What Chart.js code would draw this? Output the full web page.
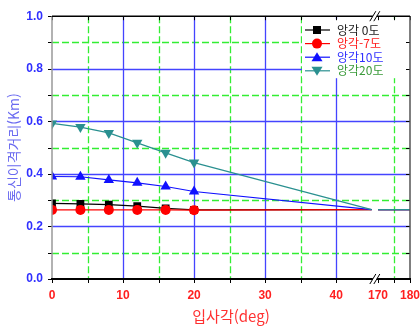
<!DOCTYPE html>
<html lang="ko">
<head>
<meta charset="utf-8">
<title>통신이격거리</title>
<script src="https://cdn.jsdelivr.net/npm/chart.js@4.4.1/dist/chart.umd.min.js"></script>
<style>
    html, body { margin: 0; padding: 0; background: #ffffff; }
    #caixa { width: 420px; height: 327px; }
</style>
</head>
<body>
<div id="caixa"><canvas id="graficoAlcance" width="420" height="327"></canvas></div>
<script>
/* Dados (입사각 em graus, 통신이격거리 em Km) */
const anguloIncidencia = [0, 4, 8, 12, 16, 20];
const angulo0 = [0.288, 0.286, 0.283, 0.277, 0.269, 0.263];
const anguloMenos7 = [0.263, 0.263, 0.263, 0.263, 0.263, 0.262];
const angulo10 = [0.390, 0.389, 0.377, 0.366, 0.352, 0.333];
const angulo20 = [0.592, 0.578, 0.556, 0.518, 0.480, 0.443];

/* Todas as curvas juntam-se em 45° e seguem depois do corte (170–180) */
const caudaX = [45, 170, 180];
const caudaY = [0.264, 0.264, 0.264];

const ticksX = [0, 10, 20, 30, 40, 170, 180];
const ticksY = [0, 0.2, 0.4, 0.6, 0.8, 1.0];
const legendas = ['앙각 0도', '앙각-7도', '앙각10도', '앙각20도'];

/* Eixo X com corte: 0–45 normal, 170–180 comprimido */
function eixoX(v) {
    return v <= 45 ? v : 45.9 + (v - 170) * 0.45;
}

function montarPontos(valores) {
    const pontos = anguloIncidencia.map(function (x, i) {
        return { x: eixoX(x), y: valores[i] };
    });
    pontos.push({ x: eixoX(caudaX[0]), y: caudaY[0] });
    pontos.push({ x: eixoX(caudaX[0]) + 0.4, y: null });
    pontos.push({ x: eixoX(caudaX[1]), y: caudaY[1] });
    pontos.push({ x: eixoX(caudaX[2]), y: caudaY[2] });
    return pontos;
}

function raios(r) {
    return anguloIncidencia.map(function () { return r; }).concat([0, 0, 0, 0]);
}

const series = [
    { nome: legendas[0], valores: angulo0, cor: '#000000', texto: '#222222', estilo: 'rect', raio: 5.5, rot: 0 },
    { nome: legendas[1], valores: anguloMenos7, cor: '#ff0000', texto: '#ff2020', estilo: 'circle', raio: 5, rot: 0 },
    { nome: legendas[2], valores: angulo10, cor: '#1010ff', texto: '#3030ff', estilo: 'triangle', raio: 6, rot: 0 },
    { nome: legendas[3], valores: angulo20, cor: '#2a9090', texto: '#3a9a3a', estilo: 'triangle', raio: 6, rot: 180 }
];

/* Grelha: azul contínua nos valores principais, verde tracejada nos intermédios */
const grelhaPlugin = {
    id: 'grelha',
    beforeDatasetsDraw(chart) {
        const ctx = chart.ctx;
        const a = chart.chartArea;
        const sx = chart.scales.x;
        const sy = chart.scales.y;
        ctx.save();
        ctx.lineWidth = 1.3;

        [5, 15, 25, 35, 175].forEach(function (v) {
            const px = Math.round(sx.getPixelForValue(eixoX(v))) + 0.5;
            ctx.strokeStyle = '#33ee33';
            ctx.setLineDash([7, 3]);
            ctx.beginPath(); ctx.moveTo(px, a.top); ctx.lineTo(px, a.bottom); ctx.stroke();
        });
        [0.1, 0.3, 0.5, 0.7, 0.9].forEach(function (v) {
            const py = Math.round(sy.getPixelForValue(v)) + 0.5;
            ctx.strokeStyle = '#33ee33';
            ctx.setLineDash([7, 3]);
            ctx.beginPath(); ctx.moveTo(a.left, py); ctx.lineTo(a.right, py); ctx.stroke();
        });
        ctx.setLineDash([]);
        [10, 20, 30, 40].forEach(function (v) {
            const px = Math.round(sx.getPixelForValue(eixoX(v))) + 0.5;
            ctx.strokeStyle = '#4444ff';
            ctx.beginPath(); ctx.moveTo(px, a.top); ctx.lineTo(px, a.bottom); ctx.stroke();
        });
        [0.2, 0.4, 0.6, 0.8].forEach(function (v) {
            const py = Math.round(sy.getPixelForValue(v)) + 0.5;
            ctx.strokeStyle = '#4444ff';
            ctx.beginPath(); ctx.moveTo(a.left, py); ctx.lineTo(a.right, py); ctx.stroke();
        });
        ctx.restore();
    }
};

function desenharMarcador(ctx, s, x, y) {
    ctx.fillStyle = s.cor;
    ctx.beginPath();
    if (s.estilo === 'rect') {
        ctx.rect(x - 4, y - 4, 8, 8);
    } else if (s.estilo === 'circle') {
        ctx.arc(x, y, 5, 0, Math.PI * 2);
    } else if (s.rot === 180) {
        ctx.moveTo(x - 5.5, y - 4); ctx.lineTo(x + 5.5, y - 4); ctx.lineTo(x, y + 5);
    } else {
        ctx.moveTo(x - 5.5, y + 4); ctx.lineTo(x + 5.5, y + 4); ctx.lineTo(x, y - 5);
    }
    ctx.closePath();
    ctx.fill();
}

/* Moldura, marcas dos eixos, corte e legenda */
const molduraPlugin = {
    id: 'moldura',
    afterDatasetsDraw(chart) {
        const ctx = chart.ctx;
        const a = chart.chartArea;
        const sx = chart.scales.x;
        const sy = chart.scales.y;
        ctx.save();

        // legenda
        ctx.fillStyle = '#ffffff';
        ctx.fillRect(302, a.top + 3, a.right - 302, 59);
        ctx.font = '12px "Noto Sans CJK KR"';
        ctx.textBaseline = 'middle';
        series.forEach(function (s, i) {
            const y = 30 + i * 13.6;
            ctx.strokeStyle = s.cor;
            ctx.lineWidth = 1.2;
            ctx.beginPath(); ctx.moveTo(305, y); ctx.lineTo(330, y); ctx.stroke();
            desenharMarcador(ctx, s, 317, y);
            ctx.fillStyle = s.texto;
            ctx.fillText(s.nome, 337, y);
        });

        // marcas
        ctx.strokeStyle = '#000000';
        ctx.lineWidth = 1;
        for (let v = 0; v <= 1.0001; v += 0.1) {
            const py = Math.round(sy.getPixelForValue(v)) + 0.5;
            ctx.beginPath(); ctx.moveTo(a.left - 4, py); ctx.lineTo(a.left, py); ctx.stroke();
            ctx.beginPath(); ctx.moveTo(a.right, py); ctx.lineTo(a.right - 4, py); ctx.stroke();
        }
        [0, 5, 10, 15, 20, 25, 30, 35, 40, 170, 175, 180].forEach(function (v) {
            const px = Math.round(sx.getPixelForValue(eixoX(v))) + 0.5;
            ctx.beginPath(); ctx.moveTo(px, a.bottom); ctx.lineTo(px, a.bottom + 4); ctx.stroke();
            ctx.beginPath(); ctx.moveTo(px, a.top); ctx.lineTo(px, a.top + 4); ctx.stroke();
        });

        // moldura
        ctx.lineWidth = 1.5;
        ctx.strokeStyle = '#999999';
        ctx.beginPath(); ctx.moveTo(a.left, a.top); ctx.lineTo(a.left, a.bottom); ctx.stroke();
        ctx.strokeStyle = '#555555';
        ctx.beginPath(); ctx.moveTo(a.right, a.top); ctx.lineTo(a.right, a.bottom); ctx.stroke();
        ctx.strokeStyle = '#000000';
        ctx.beginPath(); ctx.moveTo(a.left, a.top); ctx.lineTo(a.right, a.top); ctx.stroke();
        ctx.lineWidth = 2;
        ctx.beginPath(); ctx.moveTo(a.left - 1, a.bottom); ctx.lineTo(a.right + 1, a.bottom); ctx.stroke();

        // corte do eixo X
        const pc = (sx.getPixelForValue(eixoX(45)) + sx.getPixelForValue(eixoX(170))) / 2;
        [a.top, a.bottom].forEach(function (y) {
            ctx.fillStyle = '#ffffff';
            ctx.fillRect(pc - 2, y - 2, 4, 4);
            ctx.strokeStyle = '#000000';
            ctx.lineWidth = 1;
            [-2, 2].forEach(function (d) {
                ctx.beginPath();
                ctx.moveTo(pc + d - 3, y + 5);
                ctx.lineTo(pc + d + 3, y - 5);
                ctx.stroke();
            });
        });
        ctx.restore();
    }
};

new Chart(document.getElementById('graficoAlcance'), {
    type: 'line',
    data: {
        datasets: series.map(function (s, i) {
            return {
                label: s.nome,
                data: montarPontos(s.valores),
                borderColor: s.cor,
                backgroundColor: s.cor,
                borderWidth: 1.2,
                pointStyle: s.estilo,
                pointRotation: s.rot,
                pointRadius: raios(s.raio),
                pointBorderWidth: 0,
                spanGaps: false,
                order: 4 - i
            };
        })
    },
    options: {
        responsive: false,
        animation: false,
        layout: { padding: { top: 14, right: 10, left: 0, bottom: 0 } },
        plugins: {
            legend: { display: false },
            tooltip: { enabled: false }
        },
        scales: {
            x: {
                type: 'linear',
                min: 0,
                max: eixoX(180),
                afterBuildTicks: function (scale) {
                    scale.ticks = ticksX.map(function (v) { return { value: eixoX(v) }; });
                },
                afterFit: function (scale) {
                    scale.height = 48;
                    scale.paddingRight = 0;
                },
                grid: { display: false, drawTicks: false },
                border: { display: false },
                ticks: {
                    autoSkip: false,
                    maxRotation: 0,
                    padding: 9,
                    color: '#ff2020',
                    font: { family: 'Arial, "Liberation Sans", sans-serif', size: 12, weight: 'bold' },
                    callback: function (value, index) { return ticksX[index]; }
                },
                title: {
                    display: true,
                    text: '입사각(deg)',
                    color: '#ff3030',
                    font: { family: '"Noto Sans CJK KR"', size: 15 },
                    padding: { top: 2, bottom: 2 }
                }
            },
            y: {
                min: 0,
                max: 1,
                afterBuildTicks: function (scale) {
                    scale.ticks = ticksY.map(function (v) { return { value: v }; });
                },
                afterFit: function (scale) { scale.width = 52; },
                grid: { display: false, drawTicks: false },
                border: { display: false },
                ticks: {
                    padding: 9,
                    color: '#3030ff',
                    font: { family: 'Arial, "Liberation Sans", sans-serif', size: 12, weight: 'bold' },
                    callback: function (value) { return value.toFixed(1); }
                },
                title: {
                    display: true,
                    text: '통신이격거리(Km)',
                    color: '#6a6af0',
                    font: { family: '"Noto Sans CJK KR"', size: 14 },
                    padding: { top: 5, bottom: 0 }
                }
            }
        }
    },
    plugins: [grelhaPlugin, molduraPlugin]
});
</script>
</body>
</html>
